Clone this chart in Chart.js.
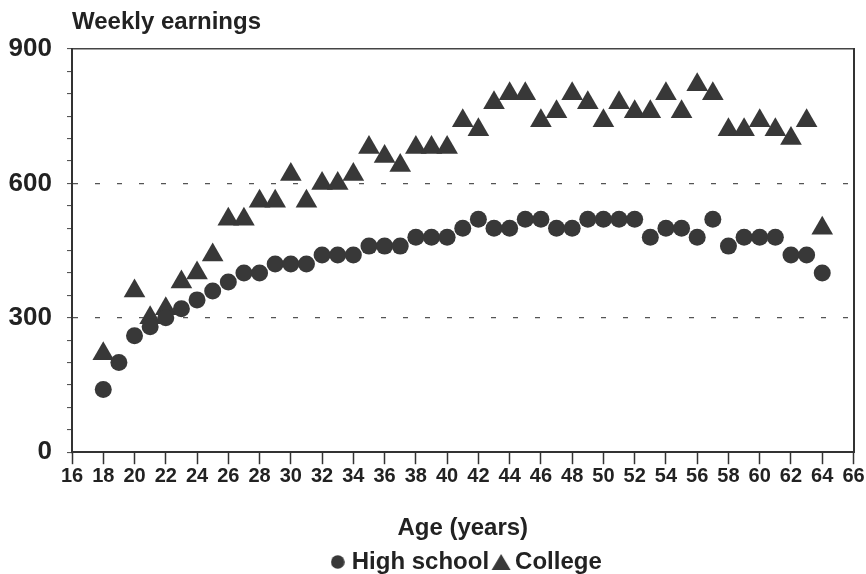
<!DOCTYPE html>
<html>
<head>
<meta charset="utf-8">
<script src="https://cdn.jsdelivr.net/npm/chart.js@4/dist/chart.umd.min.js"></script>
<style>
  html, body { margin: 0; padding: 0; background: #fff; }
  #wrap { width: 866px; height: 574px; }
</style>
</head>
<body>
<div id="wrap"><canvas id="earningsChart"></canvas></div>
<script>
// ages 18..64
const ages = [18,19,20,21,22,23,24,25,26,27,28,29,30,31,32,33,34,35,36,37,38,39,40,41,
  42,43,44,45,46,47,48,49,50,51,52,53,54,55,56,57,58,59,60,61,62,63,64];
const highSchool = [140,200,260,280,300,320,340,360,380,400,400,420,420,420,440,440,440,460,460,460,480,480,480,500,
  520,500,500,520,520,500,500,520,520,520,520,480,500,500,480,520,460,480,480,480,440,440,400];
const college = [220,null,360,300,320,380,400,440,520,520,560,560,620,560,600,600,620,680,660,640,680,680,680,740,
  720,780,800,800,740,760,800,780,740,780,760,760,800,760,820,800,720,720,740,720,700,740,500];
const yTicks = [0, 300, 600, 900];

const ink = "#383838";
const textCol = "#222";
const sans = "'Liberation Sans', Arial, Helvetica, sans-serif";

function pts(vals) {
  return ages.map((a, i) => ({ x: a, y: vals[i] })).filter(p => p.y !== null);
}

// small legend icons (circle is smaller than the triangle in the original)
function makeIcon(kind) {
  const c = document.createElement("canvas");
  const g = c.getContext("2d");
  if (kind === "circle") {
    c.width = 14; c.height = 14;
    g.fillStyle = ink;
    g.beginPath(); g.arc(7, 7, 6.8, 0, Math.PI * 2); g.fill();
  } else {
    c.width = 20; c.height = 18;
    g.fillStyle = ink;
    g.beginPath(); g.moveTo(10, 1); g.lineTo(19.5, 17); g.lineTo(0.5, 17); g.closePath(); g.fill();
  }
  return c;
}
const legendIcons = [makeIcon("circle"), makeIcon("triangle")];

// "Weekly earnings" label above the y axis, legend centred under the plot
const extras = {
  id: "extras",
  afterLayout(chart) {
    const lg = chart.legend;
    const d = (chart.chartArea.left + chart.chartArea.right) / 2 - (lg.left + lg.right) / 2 + 6;
    lg.left += d;
    lg.right += d;
  },
  afterDraw(chart) {
    const ctx = chart.ctx;
    ctx.save();
    ctx.fillStyle = textCol;
    ctx.font = "bold 24px " + sans;
    ctx.textBaseline = "alphabetic";
    ctx.fillText("Weekly earnings", chart.chartArea.left, 29);
    ctx.restore();
  }
};

const ctx = document.getElementById("earningsChart").getContext("2d");
new Chart(ctx, {
  type: "scatter",
  data: {
    datasets: [{
      label: "High school",
      data: pts(highSchool),
      pointStyle: "circle",
      pointRadius: 8.5,
      backgroundColor: ink,
      borderColor: ink,
      borderWidth: 0
    }, {
      label: "College",
      data: pts(college),
      pointStyle: "triangle",
      pointRadius: 12.5,
      backgroundColor: ink,
      borderColor: ink,
      borderWidth: 0
    }]
  },
  options: {
    responsive: true,
    maintainAspectRatio: false,
    animation: false,
    layout: { padding: { top: 49, right: 3, left: 0, bottom: -10 } },
    plugins: {
      tooltip: { enabled: false },
      legend: {
        position: "bottom",
        labels: {
          usePointStyle: true,
          boxWidth: 4,
          boxHeight: 14,
          padding: 10,
          color: textCol,
          font: { family: sans, size: 24, weight: "bold" },
          generateLabels(chart) {
            const items = Chart.defaults.plugins.legend.labels.generateLabels(chart);
            items.forEach(it => { it.pointStyle = legendIcons[it.datasetIndex]; });
            return items;
          }
        }
      }
    },
    scales: {
      x: {
        type: "linear",
        min: 16,
        max: 66,
        ticks: {
          stepSize: 2,
          autoSkip: false,
          maxRotation: 0,
          color: textCol,
          padding: 0,
          font: { family: "'Liberation Sans Narrow', " + sans, size: 20, weight: "bold" }
        },
        grid: { drawOnChartArea: false, drawTicks: true, tickLength: 12, tickColor: "#333", tickWidth: 1.5 },
        border: { color: "#333", width: 2 },
        title: {
          display: true,
          text: "Age (years)",
          color: textCol,
          padding: { top: 26, bottom: -3 },
          font: { family: sans, size: 24, weight: "bold" }
        }
      },
      x2: {
        type: "linear",
        position: "top",
        min: 16,
        max: 66,
        ticks: { display: false },
        grid: { drawOnChartArea: false, drawTicks: false },
        border: { color: "#444", width: 1.5 }
      },
      y: {
        min: 0,
        max: 900,
        afterFit(scale) { scale.width = 72; },
        ticks: {
          stepSize: 50,
          autoSkip: false,
          color: textCol,
          padding: 15,
          font: { family: sans, size: 26, weight: "bold" },
          callback: v => yTicks.includes(v) ? v : ""
        },
        grid: {
          color: c => (c.tick && (c.tick.value === 300 || c.tick.value === 600)) ? "#555" : "rgba(0,0,0,0)",
          lineWidth: 1.2,
          tickColor: "#444",
          tickLength: 5,
          tickWidth: 1
        },
        border: { color: "#333", width: 2, dash: [5, 17] }
      },
      y2: {
        position: "right",
        min: 0,
        max: 900,
        ticks: { display: false },
        grid: { drawOnChartArea: false, drawTicks: false },
        border: { color: "#333", width: 2 }
      }
    }
  },
  plugins: [extras]
});
</script>
</body>
</html>
